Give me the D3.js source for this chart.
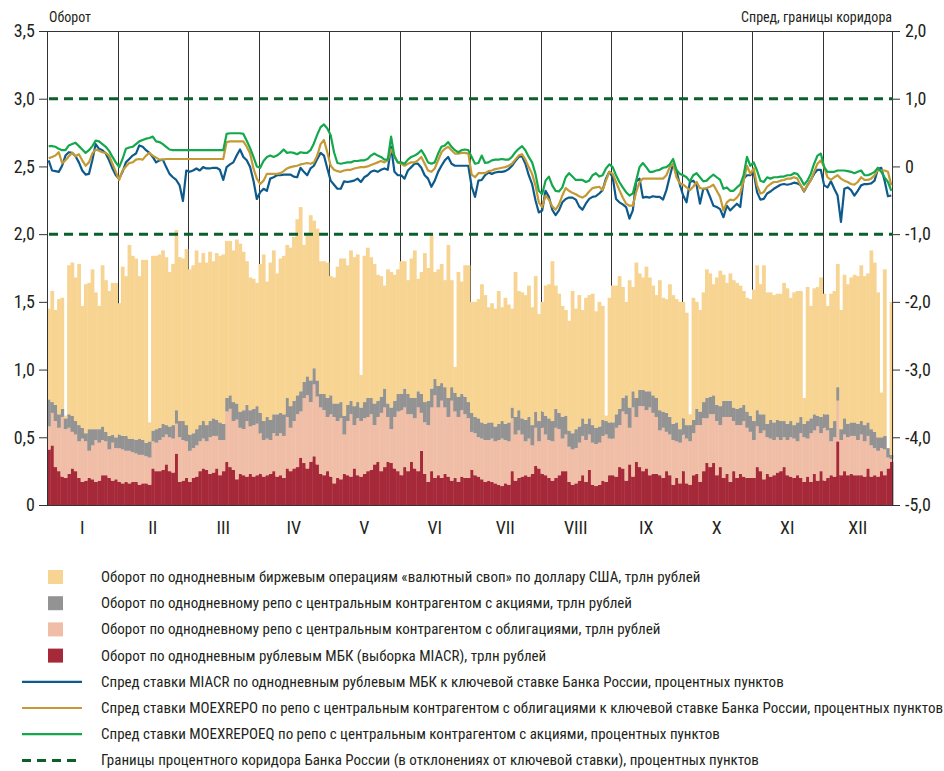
<!DOCTYPE html>
<html>
<head>
<meta charset="utf-8">
<script src="https://cdn.jsdelivr.net/npm/d3@7"></script>
<style>
  body { margin: 0; background: #fff; }
  svg text { font-family: "Liberation Sans Narrow", "Roboto Condensed", "DejaVu Sans Condensed", sans-serif; fill: #231f20; }
</style>
</head>
<body>
<svg id="chart" width="944" height="771"></svg>
<script>
// month labels, 21 trading days each
const months = ['I', 'II', 'III', 'IV', 'V', 'VI', 'VII', 'VIII', 'IX', 'X', 'XI', 'XII'];
const daysPerMonth = 21;

// turnover, trln rubles (one row per month)
const miacr = [
  0.41,0.44,0.28,0.25,0.21,0.20,0.23,0.27,0.25,0.20,0.17,0.18,0.20,0.19,0.17,0.18,0.22,0.22,0.20,0.18,0.19,
  0.17,0.16,0.17,0.16,0.17,0.17,0.15,0.16,0.16,0.15,0.27,0.25,0.25,0.26,0.30,0.25,0.24,0.38,0.17,0.18,0.20,
  0.17,0.20,0.21,0.25,0.27,0.26,0.23,0.24,0.27,0.22,0.25,0.32,0.28,0.26,0.19,0.23,0.22,0.21,0.23,0.21,0.22,
  0.23,0.21,0.22,0.23,0.25,0.21,0.22,0.20,0.27,0.25,0.27,0.28,0.35,0.31,0.27,0.32,0.36,0.30,0.23,0.22,0.25,
  0.21,0.16,0.20,0.19,0.23,0.22,0.21,0.27,0.22,0.21,0.23,0.25,0.26,0.30,0.32,0.25,0.28,0.32,0.31,0.27,0.25,
  0.22,0.28,0.25,0.32,0.27,0.25,0.40,0.23,0.17,0.25,0.20,0.22,0.20,0.23,0.21,0.18,0.20,0.17,0.21,0.20,0.20,
  0.26,0.22,0.21,0.19,0.17,0.18,0.17,0.16,0.15,0.14,0.16,0.15,0.25,0.18,0.20,0.21,0.22,0.21,0.23,0.29,0.27,
  0.23,0.22,0.20,0.18,0.20,0.22,0.25,0.25,0.17,0.15,0.16,0.18,0.22,0.17,0.26,0.15,0.14,0.15,0.18,0.17,0.22,
  0.22,0.21,0.28,0.27,0.18,0.30,0.21,0.32,0.28,0.25,0.27,0.22,0.23,0.23,0.22,0.20,0.25,0.22,0.15,0.20,0.16,
  0.25,0.16,0.15,0.22,0.23,0.17,0.25,0.31,0.28,0.31,0.22,0.28,0.20,0.23,0.17,0.25,0.20,0.23,0.21,0.20,0.20,
  0.20,0.28,0.25,0.19,0.23,0.21,0.22,0.24,0.25,0.28,0.22,0.21,0.20,0.22,0.20,0.17,0.21,0.17,0.23,0.18,0.25,
  0.18,0.20,0.22,0.21,0.47,0.22,0.25,0.22,0.23,0.22,0.22,0.22,0.21,0.27,0.21,0.22,0.21,0.25,0.22,0.27,0.32
];
const repoBonds = [
  0.17,0.24,0.34,0.32,0.44,0.36,0.34,0.27,0.27,0.27,0.32,0.29,0.20,0.25,0.31,0.28,0.26,0.25,0.21,0.28,0.23,
  0.25,0.25,0.23,0.24,0.22,0.21,0.22,0.21,0.20,0.20,0.20,0.21,0.23,0.24,0.22,0.25,0.25,0.22,0.33,0.30,0.27,
  0.23,0.22,0.23,0.22,0.22,0.21,0.27,0.27,0.24,0.26,0.23,0.37,0.43,0.36,0.44,0.34,0.34,0.41,0.35,0.38,0.38,
  0.30,0.27,0.27,0.25,0.28,0.30,0.31,0.31,0.38,0.32,0.35,0.39,0.34,0.48,0.54,0.44,0.53,0.50,0.49,0.48,0.40,
  0.46,0.49,0.42,0.45,0.29,0.40,0.46,0.32,0.42,0.41,0.41,0.40,0.41,0.29,0.33,0.43,0.44,0.33,0.25,0.38,0.44,
  0.48,0.44,0.42,0.35,0.37,0.47,0.28,0.38,0.42,0.47,0.61,0.50,0.57,0.49,0.44,0.59,0.49,0.48,0.49,0.47,0.44,
  0.28,0.31,0.29,0.30,0.31,0.30,0.32,0.31,0.33,0.35,0.32,0.32,0.39,0.34,0.35,0.31,0.25,0.28,0.21,0.28,0.20,
  0.34,0.30,0.28,0.29,0.37,0.34,0.24,0.27,0.26,0.26,0.26,0.28,0.29,0.31,0.26,0.31,0.31,0.31,0.33,0.35,0.27,
  0.27,0.36,0.31,0.42,0.49,0.27,0.51,0.33,0.45,0.48,0.43,0.50,0.45,0.42,0.33,0.37,0.29,0.30,0.33,0.27,0.30,
  0.27,0.33,0.32,0.31,0.36,0.42,0.39,0.33,0.39,0.36,0.40,0.31,0.45,0.42,0.48,0.37,0.39,0.36,0.41,0.37,0.34,
  0.28,0.30,0.28,0.36,0.27,0.28,0.26,0.26,0.23,0.22,0.26,0.29,0.29,0.25,0.33,0.33,0.28,0.36,0.32,0.40,0.28,
  0.39,0.35,0.25,0.29,0.30,0.26,0.27,0.28,0.28,0.29,0.26,0.30,0.26,0.24,0.23,0.20,0.19,0.17,0.19,0.08,0.02
];
const repoShares = [
  0.20,0.08,0.12,0.10,0.06,0.08,0.10,0.12,0.10,0.12,0.08,0.06,0.16,0.12,0.08,0.10,0.10,0.07,0.10,0.06,0.08,
  0.10,0.10,0.11,0.09,0.10,0.10,0.12,0.11,0.10,0.12,0.08,0.10,0.09,0.10,0.07,0.08,0.10,0.10,0.12,0.14,0.12,
  0.12,0.11,0.12,0.12,0.13,0.12,0.12,0.13,0.12,0.13,0.12,0.10,0.10,0.14,0.12,0.12,0.14,0.12,0.12,0.12,0.13,
  0.15,0.14,0.16,0.15,0.14,0.16,0.15,0.16,0.14,0.16,0.15,0.14,0.15,0.12,0.14,0.16,0.12,0.12,0.10,0.12,0.14,
  0.14,0.10,0.13,0.12,0.14,0.12,0.10,0.14,0.12,0.10,0.12,0.14,0.12,0.16,0.12,0.12,0.14,0.10,0.16,0.12,0.13,
  0.12,0.14,0.15,0.12,0.15,0.12,0.14,0.15,0.18,0.14,0.12,0.16,0.13,0.15,0.14,0.10,0.14,0.15,0.12,0.13,0.12,
  0.14,0.12,0.14,0.12,0.12,0.13,0.12,0.11,0.12,0.13,0.12,0.14,0.08,0.13,0.15,0.12,0.16,0.16,0.15,0.12,0.15,
  0.12,0.14,0.16,0.15,0.14,0.12,0.16,0.14,0.12,0.12,0.14,0.12,0.13,0.12,0.12,0.13,0.12,0.12,0.12,0.10,0.12,
  0.12,0.10,0.12,0.10,0.14,0.15,0.12,0.14,0.12,0.12,0.14,0.12,0.13,0.14,0.15,0.12,0.14,0.13,0.12,0.14,0.10,
  0.12,0.10,0.12,0.10,0.12,0.10,0.12,0.15,0.13,0.14,0.12,0.14,0.12,0.12,0.12,0.10,0.12,0.13,0.12,0.12,0.12,
  0.14,0.12,0.14,0.12,0.10,0.14,0.13,0.13,0.14,0.12,0.12,0.12,0.10,0.14,0.12,0.10,0.13,0.11,0.12,0.08,0.12,
  0.10,0.12,0.10,0.12,0.10,0.08,0.12,0.10,0.10,0.10,0.12,0.10,0.12,0.10,0.12,0.12,0.10,0.08,0.10,0.07,0.03
];
const fxSwap = [
  0.67,0.82,0.70,0.85,0.82,0.02,1.10,1.13,1.06,1.19,0.90,1.10,1.08,1.18,1.01,0.91,1.19,1.12,1.07,1.12,1.14,
  0.97,1.25,1.18,1.43,1.35,1.34,1.20,1.33,1.35,0.14,1.29,1.28,1.28,1.28,1.24,1.14,1.19,1.33,1.21,1.20,1.30,
  1.22,1.24,1.32,1.20,1.24,1.20,1.25,1.16,1.23,1.23,1.25,1.16,1.14,1.12,1.21,1.24,1.17,1.06,0.98,0.96,0.91,
  1.10,1.23,1.00,1.16,1.21,1.04,1.14,1.17,1.13,1.17,1.21,1.30,1.36,1.01,1.05,1.22,1.09,1.12,0.98,0.98,1.00,
  0.88,0.93,1.01,1.06,1.16,1.03,1.11,1.10,1.09,0.24,1.08,1.11,1.04,1.03,0.93,0.89,0.76,0.99,1.00,0.93,0.92,
  0.98,0.94,0.84,1.03,1.09,0.83,0.90,1.10,0.98,1.14,0.79,0.86,0.88,0.79,1.13,0.79,0.19,0.92,0.83,0.97,1.01,
  0.82,0.85,0.88,1.02,0.95,0.85,0.88,0.87,0.98,0.84,0.93,0.87,0.73,1.07,0.88,0.93,0.92,0.97,0.87,1.00,0.79,
  0.81,0.96,0.99,1.18,0.91,0.88,0.82,0.78,0.81,1.05,0.89,0.97,0.80,0.93,0.91,0.97,0.86,0.92,0.84,0.04,0.92,
  1.01,0.95,0.98,0.82,0.69,0.94,0.77,1.00,0.86,0.83,0.92,0.84,0.81,0.76,0.96,0.84,0.84,0.98,0.95,0.91,0.94,
  0.86,0.83,0.08,0.90,0.79,0.75,0.81,0.95,0.91,0.82,0.94,1.00,0.93,0.87,0.94,0.94,0.93,0.90,0.84,0.84,0.86,
  0.97,1.07,0.96,1.10,0.97,0.94,0.94,0.93,0.94,1.02,1.00,0.91,0.98,0.97,0.93,0.19,0.99,0.83,0.93,0.95,1.03,
  0.89,0.80,0.99,0.96,0.91,0.88,1.06,1.03,1.07,1.09,1.09,1.15,1.10,1.10,1.32,1.25,1.07,0.33,1.23,0.00,1.13
];

// spreads to the key rate, percentage points
const spreadMiacr = [
  0.09,-0.06,-0.07,-0.08,0.01,0.16,0.21,0.20,0.15,0.06,-0.06,-0.12,-0.11,0.09,0.33,0.26,0.24,0.19,0.09,-0.03,-0.13,
  -0.18,-0.08,0.06,0.11,0.16,0.19,0.31,0.29,0.24,0.20,0.14,0.06,0.09,0.10,-0.01,-0.11,-0.16,-0.20,-0.28,-0.51,-0.06,
  -0.08,-0.06,-0.03,-0.06,-0.01,-0.03,-0.03,-0.02,-0.02,-0.05,-0.20,-0.01,0.03,0.06,0.16,0.25,0.14,0.09,-0.01,-0.21,-0.48,
  -0.38,-0.33,-0.36,-0.18,-0.16,-0.13,-0.13,-0.12,-0.12,-0.12,-0.15,-0.16,-0.02,-0.08,-0.13,-0.03,0.01,0.11,0.20,0.16,-0.03,
  -0.21,-0.27,-0.33,-0.33,-0.22,-0.23,-0.22,-0.21,-0.18,-0.23,-0.16,-0.13,-0.08,-0.06,-0.08,-0.05,-0.03,-0.05,0.29,-0.08,-0.13,
  -0.13,-0.18,-0.06,-0.01,0.04,0.04,-0.02,-0.13,-0.18,-0.30,-0.21,-0.08,0.01,0.09,0.14,0.04,0.01,0.01,0.01,0.01,0.01,
  -0.30,-0.45,-0.21,-0.20,-0.13,-0.09,-0.11,-0.09,-0.08,-0.08,-0.07,-0.04,0.01,0.08,0.14,0.15,0.04,-0.13,-0.26,-0.50,-0.68,
  -0.65,-0.36,-0.45,-0.64,-0.72,-0.65,-0.53,-0.48,-0.46,-0.46,-0.49,-0.59,-0.64,-0.55,-0.48,-0.45,-0.44,-0.40,-0.35,-0.18,-0.08,
  -0.16,-0.48,-0.53,-0.56,-0.60,-0.77,-0.65,-0.22,-0.18,-0.46,-0.45,-0.46,-0.44,-0.45,-0.45,-0.49,-0.35,-0.15,0.04,-0.06,-0.27,
  -0.43,-0.53,-0.23,-0.21,-0.28,-0.55,-0.33,-0.33,-0.45,-0.58,-0.60,-0.63,-0.75,-0.58,-0.65,-0.60,-0.55,-0.60,-0.18,-0.13,-0.13,
  -0.08,-0.38,-0.49,-0.48,-0.40,-0.37,-0.33,-0.30,-0.27,-0.26,-0.27,-0.26,-0.24,-0.25,-0.28,-0.37,-0.28,-0.20,-0.11,-0.05,-0.05,
  -0.28,-0.31,-0.22,-0.33,-0.43,-0.82,-0.33,-0.31,-0.35,-0.43,-0.36,-0.28,-0.26,-0.26,-0.25,-0.21,-0.04,-0.02,-0.21,-0.44,-0.43
];
const spreadRepo = [
  0.12,0.14,0.16,0.21,0.05,0.09,0.15,0.20,0.15,0.18,0.09,0.01,0.06,0.19,0.25,0.23,0.21,0.20,0.16,0.04,-0.08,
  -0.20,-0.06,0.00,0.05,0.06,0.10,0.11,0.10,0.16,0.20,0.16,0.13,0.10,0.10,0.11,0.11,0.11,0.11,0.11,0.11,0.11,
  0.11,0.11,0.11,0.11,0.11,0.11,0.11,0.11,0.11,0.11,0.11,0.36,0.37,0.37,0.37,0.37,0.37,0.29,0.19,-0.03,-0.18,
  -0.26,-0.21,-0.11,-0.11,-0.11,-0.11,-0.10,-0.07,-0.03,-0.01,0.00,0.01,0.03,0.04,0.05,0.04,0.06,0.16,0.33,0.39,0.21,
  0.01,-0.05,-0.07,-0.08,-0.06,-0.05,-0.05,-0.03,-0.02,-0.01,-0.01,0.00,0.02,0.04,0.06,0.08,0.06,0.09,0.25,0.16,0.06,
  0.04,0.01,0.04,0.06,0.06,0.09,0.14,0.04,-0.06,-0.08,-0.03,0.09,0.21,0.26,0.29,0.24,0.19,0.19,0.20,0.20,0.19,
  -0.12,-0.16,-0.10,-0.10,-0.10,-0.07,-0.06,-0.04,-0.03,-0.02,-0.01,0.01,0.04,0.10,0.16,0.18,0.10,-0.01,-0.11,-0.28,-0.53,
  -0.60,-0.43,-0.49,-0.59,-0.64,-0.56,-0.43,-0.32,-0.36,-0.39,-0.41,-0.44,-0.46,-0.43,-0.37,-0.32,-0.31,-0.30,-0.35,-0.21,-0.08,
  -0.11,-0.23,-0.35,-0.46,-0.55,-0.58,-0.58,-0.38,-0.23,-0.18,-0.18,-0.18,-0.18,-0.18,-0.18,-0.18,-0.13,-0.01,0.04,-0.16,-0.25,
  -0.27,-0.31,-0.35,-0.30,-0.23,-0.32,-0.33,-0.32,-0.30,-0.27,-0.36,-0.45,-0.65,-0.53,-0.49,-0.50,-0.46,-0.39,-0.21,0.01,-0.11,
  -0.03,-0.28,-0.40,-0.38,-0.30,-0.26,-0.23,-0.23,-0.21,-0.20,-0.18,-0.18,-0.16,-0.18,-0.28,-0.36,-0.28,-0.21,-0.08,0.04,0.09,
  -0.01,-0.16,-0.20,-0.16,-0.13,-0.18,-0.21,-0.23,-0.26,-0.27,-0.23,-0.16,-0.20,-0.20,-0.18,-0.13,-0.05,-0.06,-0.06,-0.08,-0.28
];
const spreadRepoEq = [
  0.30,0.30,0.29,0.26,0.24,0.24,0.31,0.33,0.35,0.30,0.25,0.20,0.24,0.30,0.38,0.37,0.33,0.29,0.23,0.14,0.06,
  -0.01,0.11,0.26,0.28,0.29,0.33,0.37,0.39,0.41,0.42,0.44,0.37,0.36,0.33,0.29,0.25,0.24,0.24,0.24,0.24,0.24,
  0.24,0.24,0.24,0.24,0.24,0.24,0.24,0.24,0.24,0.24,0.24,0.48,0.49,0.49,0.49,0.49,0.48,0.38,0.27,0.14,0.00,
  -0.02,0.08,0.14,0.16,0.14,0.16,0.20,0.25,0.20,0.21,0.20,0.18,0.21,0.20,0.20,0.24,0.34,0.47,0.58,0.62,0.56,
  0.46,0.21,0.05,0.04,0.05,0.06,0.06,0.08,0.08,0.09,0.09,0.11,0.16,0.19,0.16,0.14,0.10,0.10,0.44,0.14,0.06,
  0.06,0.04,0.10,0.14,0.16,0.19,0.24,0.16,0.06,0.04,0.06,0.19,0.29,0.31,0.36,0.29,0.24,0.21,0.24,0.25,0.24,
  0.14,0.04,0.05,0.16,0.05,0.06,0.09,0.10,0.10,0.11,0.10,0.10,0.14,0.21,0.26,0.30,0.24,0.14,0.06,-0.11,-0.36,
  -0.41,-0.21,-0.15,-0.28,-0.36,-0.37,-0.31,-0.16,-0.10,-0.15,-0.20,-0.20,-0.20,-0.23,-0.21,-0.13,-0.10,-0.15,-0.13,-0.03,0.03,
  -0.01,-0.13,-0.23,-0.31,-0.38,-0.43,-0.40,-0.21,-0.01,0.05,-0.01,-0.08,-0.08,-0.06,-0.05,-0.02,-0.01,0.03,0.11,-0.05,-0.11,
  -0.13,-0.16,-0.22,-0.13,-0.10,-0.16,-0.22,-0.21,-0.16,-0.12,-0.16,-0.20,-0.33,-0.31,-0.36,-0.36,-0.31,-0.27,-0.13,0.14,0.01,
  0.06,-0.06,-0.21,-0.23,-0.16,-0.18,-0.16,-0.16,-0.15,-0.15,-0.13,-0.13,-0.10,-0.11,-0.18,-0.27,-0.21,-0.11,0.04,0.16,0.19,
  -0.01,-0.08,-0.08,-0.08,-0.06,-0.06,-0.06,-0.07,-0.08,-0.10,-0.08,-0.06,-0.13,-0.13,-0.11,-0.08,-0.02,-0.08,-0.16,-0.23,-0.36
];

// corridor bounds relative to key rate
const corridor = [1, -1];

const leftTicks = [0, 0.5, 1, 1.5, 2, 2.5, 3, 3.5];
const rightTicks = [2, 1, 0, -1, -2, -3, -4, -5];

const colors = {
  fxSwap: '#f7d491',
  repoShares: '#939393',
  repoBonds: '#f0bea6',
  miacr: '#a6293a',
  spreadMiacr: '#0d5a8c',
  spreadRepo: '#c39a33',
  spreadRepoEq: '#14a84c',
  corridor: '#0c5e2c'
};

const svg = d3.select('#chart');
const plot = { left: 47, right: 893, top: 31, bottom: 505 };
const n = miacr.length;

const x = d3.scaleBand().domain(d3.range(n)).range([plot.left, plot.right]).padding(0);
const yL = d3.scaleLinear().domain([0, 3.5]).range([plot.bottom, plot.top]);
const yR = d3.scaleLinear().domain([-5, 2]).range([plot.bottom, plot.top]);

function fmt(d) {
    if (d === 0) return '0';
    return (d < 0 ? '-' : '') + Math.abs(d).toFixed(1).replace('.', ',');
}

// month separators (behind the bars)
svg.append('g')
  .selectAll('line')
  .data(d3.range(1, months.length))
  .enter().append('line')
    .attr('x1', k => Math.round(x(k * daysPerMonth)) + 0.5)
    .attr('x2', k => Math.round(x(k * daysPerMonth)) + 0.5)
    .attr('y1', plot.top)
    .attr('y2', plot.bottom)
    .attr('stroke', '#333')
    .attr('stroke-width', 1);

// stacked bars
const rows = d3.range(n).map(i => ({
    miacr: miacr[i], repoBonds: repoBonds[i], repoShares: repoShares[i], fxSwap: fxSwap[i]
}));
const keys = ['miacr', 'repoBonds', 'repoShares', 'fxSwap'];
const stacked = d3.stack().keys(keys)(rows);

svg.append('g')
  .selectAll('g')
  .data(stacked)
  .enter().append('g')
    .attr('fill', s => colors[s.key])
  .selectAll('rect')
  .data(s => s)
  .enter().append('rect')
    .attr('x', (d, i) => x(i))
    .attr('width', x.bandwidth() + 0.4)
    .attr('y', d => yL(d[1]))
    .attr('height', d => Math.max(0, yL(d[0]) - yL(d[1])));

// frame
svg.append('rect')
    .attr('x', plot.left + 0.5).attr('y', plot.top + 0.5)
    .attr('width', plot.right - plot.left - 1).attr('height', plot.bottom - plot.top)
    .attr('fill', 'none').attr('stroke', '#333').attr('stroke-width', 1);

// corridor
svg.append('g')
  .selectAll('line')
  .data(corridor)
  .enter().append('line')
    .attr('x1', plot.left + 2).attr('x2', plot.right)
    .attr('y1', d => yR(d)).attr('y2', d => yR(d))
    .attr('stroke', colors.corridor)
    .attr('stroke-width', 3)
    .attr('stroke-dasharray', '9,6');

// spread lines
const lineSeries = [
  { key: 'spreadMiacr', values: spreadMiacr },
  { key: 'spreadRepo', values: spreadRepo },
  { key: 'spreadRepoEq', values: spreadRepoEq }
];
const line = d3.line()
    .x((d, i) => x(i) + x.bandwidth() / 2)
    .y(d => yR(d));

svg.append('g')
  .selectAll('path')
  .data(lineSeries)
  .enter().append('path')
    .attr('d', s => line(s.values))
    .attr('fill', 'none')
    .attr('stroke', s => colors[s.key])
    .attr('stroke-width', 2.2)
    .attr('stroke-linejoin', 'round');

// axes
const axisL = svg.append('g').attr('transform', `translate(${plot.left},0)`)
    .call(d3.axisLeft(yL).tickValues(leftTicks).tickFormat(fmt).tickSize(8).tickPadding(4));
const axisR = svg.append('g').attr('transform', `translate(${plot.right},0)`)
    .call(d3.axisRight(yR).tickValues(rightTicks).tickFormat(fmt).tickSize(7).tickPadding(5));
[axisL, axisR].forEach(a => {
    a.select('.domain').remove();
    a.selectAll('line').attr('stroke', '#333');
    a.selectAll('text').attr('font-size', 18).style('font-family', null).attr('fill', '#231f20');
});

// month labels
svg.append('g')
  .selectAll('text')
  .data(months)
  .enter().append('text')
    .attr('x', (d, k) => x(k * daysPerMonth) + (x.bandwidth() * daysPerMonth) / 2)
    .attr('y', 534)
    .attr('text-anchor', 'middle')
    .attr('font-size', 18)
    .text(d => d);

// axis titles
svg.append('text').attr('x', 49).attr('y', 22).attr('font-size', 14).text('Оборот');
svg.append('text').attr('x', 892).attr('y', 22).attr('font-size', 14).attr('text-anchor', 'end')
    .text('Спред, границы коридора');

// legend
const legend = [
  { type: 'rect', key: 'fxSwap', label: 'Оборот по однодневным биржевым операциям «валютный своп» по доллару США, трлн рублей' },
  { type: 'rect', key: 'repoShares', label: 'Оборот по однодневному репо с центральным контрагентом с акциями, трлн рублей' },
  { type: 'rect', key: 'repoBonds', label: 'Оборот по однодневному репо с центральным контрагентом с облигациями, трлн рублей' },
  { type: 'rect', key: 'miacr', label: 'Оборот по однодневным рублевым МБК (выборка MIACR), трлн рублей' },
  { type: 'line', key: 'spreadMiacr', label: 'Спред ставки MIACR по однодневным рублевым МБК к ключевой ставке Банка России, процентных пунктов' },
  { type: 'line', key: 'spreadRepo', label: 'Спред ставки MOEXREPO по репо с центральным контрагентом с облигациями к ключевой ставке Банка России, процентных пунктов' },
  { type: 'line', key: 'spreadRepoEq', label: 'Спред ставки MOEXREPOEQ по репо с центральным контрагентом с акциями, процентных пунктов' },
  { type: 'dash', key: 'corridor', label: 'Границы процентного коридора Банка России (в отклонениях от ключевой ставки), процентных пунктов' }
];

const items = svg.append('g')
  .selectAll('g')
  .data(legend)
  .enter().append('g')
    .attr('transform', (d, i) => `translate(0,${577 + i * 26.2})`);

items.filter(d => d.type === 'rect').append('rect')
    .attr('x', 48).attr('y', -7).attr('width', 15).attr('height', 14)
    .attr('fill', d => colors[d.key]);
items.filter(d => d.type !== 'rect').append('line')
    .attr('x1', 22).attr('x2', 82).attr('y1', 0).attr('y2', 0)
    .attr('stroke', d => colors[d.key])
    .attr('stroke-width', d => d.type === 'dash' ? 3 : 2.2)
    .attr('stroke-dasharray', d => d.type === 'dash' ? '9,6' : null);
items.append('text')
    .attr('x', 101).attr('y', 5)
    .attr('font-size', 15)
    .text(d => d.label);
</script>
</body>
</html>
